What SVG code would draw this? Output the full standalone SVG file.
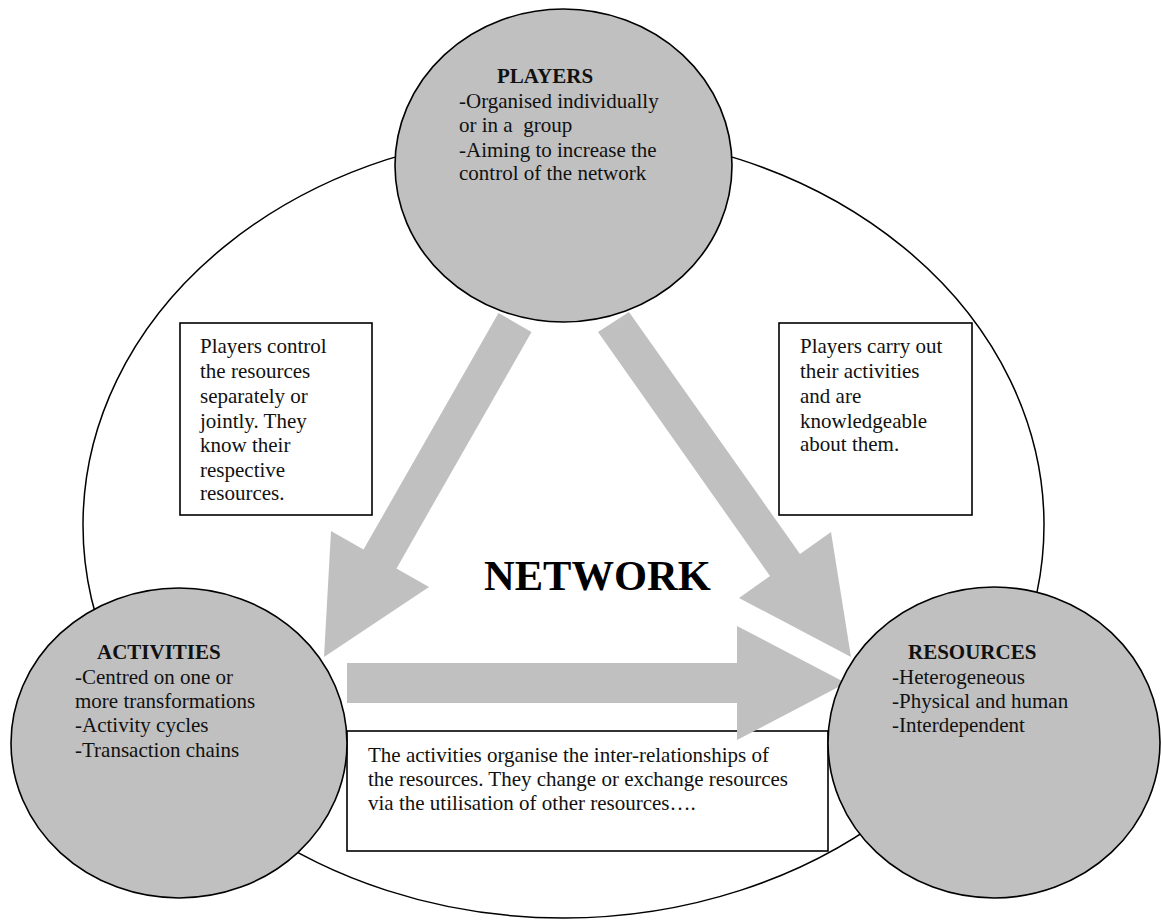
<svg xmlns="http://www.w3.org/2000/svg" width="1161" height="920" viewBox="0 0 1161 920">
<style>
.outline{fill:#ffffff;stroke:#000;stroke-width:1.5}
.node{fill:#c0c0c0;stroke:#000;stroke-width:1.6}
.box{fill:#ffffff;stroke:#000;stroke-width:1.6}
.arrow{fill:#c0c0c0;stroke:none}
text{font-family:"Liberation Serif","Times New Roman",serif;font-size:21px;fill:#111}
.title{font-weight:bold}
.big{font-weight:bold;font-size:42.5px;fill:#000}
</style>
<rect width="1161" height="920" fill="#ffffff"/>
<g id="network">
<ellipse class="outline" cx="563.5" cy="525" rx="480.5" ry="393"/>
<text class="big" x="484" y="590">NETWORK</text>
</g>
<g id="box-players-resources">
<rect class="box" x="180" y="323" width="192" height="192"/>
<text x="200" y="353">Players control</text>
<text x="200" y="378">the resources</text>
<text x="200" y="403">separately or</text>
<text x="200" y="428">jointly. They</text>
<text x="200" y="452">know their</text>
<text x="200" y="477">respective</text>
<text x="200" y="500">resources.</text>
</g>
<g id="box-players-activities">
<rect class="box" x="779" y="323" width="193" height="192"/>
<text x="800" y="353">Players carry out</text>
<text x="800" y="378">their activities</text>
<text x="800" y="403">and are</text>
<text x="800" y="428">knowledgeable</text>
<text x="800" y="451">about them.</text>
</g>
<g id="box-activities-resources">
<rect class="box" x="347" y="731" width="481" height="120"/>
<text x="368" y="762">The activities organise the inter-relationships of</text>
<text x="368" y="786">the resources. They change or exchange resources</text>
<text x="368" y="810">via the utilisation of other resources….</text>
</g>
<g id="connectors">
<polygon class="arrow" points="498.5,313 531.5,332 396.5,568.4 429,587 324,657 331,531 363.5,549.6"/>
<polygon class="arrow" points="598,332 629,312 800,554 831,532 851,657 739,598 770,576"/>
<polygon class="arrow" points="347,663 737,663 737,626 846,683 737,740 737,703 347,703"/>
</g>
<g id="players">
<ellipse class="node" cx="563.5" cy="165.5" rx="168.5" ry="156.5"/>
<text class="title" x="497" y="83">PLAYERS</text>
<text x="459" y="108">-Organised individually</text>
<text x="459" y="132" xml:space="preserve">or in a  group</text>
<text x="459" y="157">-Aiming to increase the</text>
<text x="459" y="180">control of the network</text>
</g>
<g id="activities">
<ellipse class="node" cx="179" cy="743" rx="168" ry="155"/>
<text class="title" x="97" y="659">ACTIVITIES</text>
<text x="75" y="684">-Centred on one or</text>
<text x="75" y="708">more transformations</text>
<text x="75" y="732">-Activity cycles</text>
<text x="75" y="757">-Transaction chains</text>
</g>
<g id="resources">
<ellipse class="node" cx="994" cy="742.5" rx="166" ry="155.5"/>
<text class="title" x="908" y="659">RESOURCES</text>
<text x="892" y="684">-Heterogeneous</text>
<text x="892" y="708">-Physical and human</text>
<text x="892" y="732">-Interdependent</text>
</g>
</svg>
